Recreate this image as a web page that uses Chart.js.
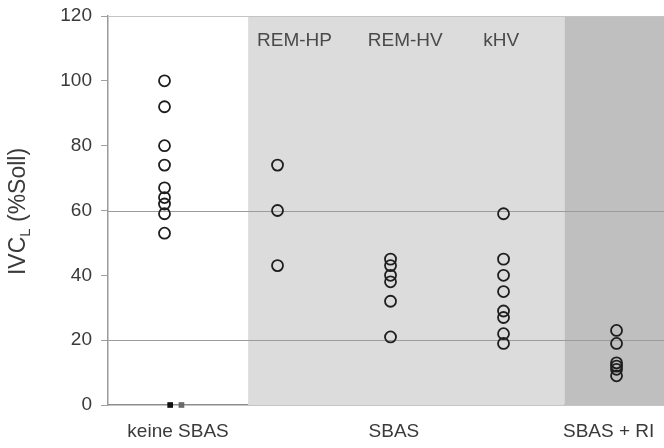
<!DOCTYPE html>
<html>
<head>
<meta charset="utf-8">
<script src="https://cdn.jsdelivr.net/npm/chart.js@4/dist/chart.umd.min.js"></script>
<style>
  html, body { margin: 0; padding: 0; background: #ffffff; }
  #wrap { width: 664px; height: 448px; position: relative; }
</style>
</head>
<body>
<div id="wrap"><canvas id="c" width="664" height="448"></canvas></div>
<script>
// Groups and their individual measurements (IVC_L, % of predicted)
const categories = ['keine SBAS', 'REM-HP', 'REM-HV', 'kHV', 'SBAS + RI'];
const valuesKeineSBAS = [100, 92, 80, 74, 67, 64, 62, 59, 53];
const valuesRemHP = [74, 60, 43];
const valuesRemHV = [45, 43, 40, 38, 32, 21];
const valuesKHV = [59, 45, 40, 35, 29, 27, 22, 19];
const valuesSbasRI = [23, 19, 13, 12, 11, 9];

// Axis labelling
const yTickValues = [0, 20, 40, 60, 80, 100, 120];
const referenceLines = [20, 60, 120];
const xAxisLabels = ['keine SBAS', 'SBAS', 'SBAS + RI'];
const xAxisLabelAt = [0.12, 2.03, 3.93];
const groupLabels = ['REM-HP', 'REM-HV', 'kHV'];
const groupLabelAt = [1.15, 2.13, 2.98];
const groupLabelValue = 112.5;

// Background bands (x in group units)
const bandEdges = [0.74, 3.54];

// Small square markers sitting on the baseline
const baselineMarkerX = [0.05, 0.15];
const baselineMarkerY = [0, 0];

const groupValues = [valuesKeineSBAS, valuesRemHP, valuesRemHV, valuesKHV, valuesSbasRI];
const circlePoints = [];
groupValues.forEach((vals, gi) => vals.forEach(v => circlePoints.push({ x: gi, y: v })));
const squarePoints = baselineMarkerX.map((x, i) => ({ x: x, y: baselineMarkerY[i] }));

const FONT = "'Liberation Sans', Arial, sans-serif";
const TEXT = '#3a3a3a';

const bandsPlugin = {
  id: 'bands',
  beforeDatasetsDraw(chart) {
    const { ctx, chartArea: a, scales: { x } } = chart;
    const e0 = x.getPixelForValue(bandEdges[0]);
    const e1 = x.getPixelForValue(bandEdges[1]);
    ctx.save();
    ctx.fillStyle = '#dcdcdc';
    ctx.fillRect(e0, a.top, e1 - e0, a.bottom - a.top);
    ctx.fillStyle = '#bfbfbf';
    ctx.fillRect(e1, a.top, a.right - e1, a.bottom - a.top);
    // horizontal reference lines drawn over the bands
    const y = chart.scales.y;
    ctx.lineWidth = 1;
    referenceLines.forEach(v => {
      const py = Math.round(y.getPixelForValue(v)) + 0.5;
      ctx.strokeStyle = v === 120 ? '#c4c4c4' : '#9c9c9c';
      ctx.beginPath();
      ctx.moveTo(a.left, py);
      ctx.lineTo(a.right, py);
      ctx.stroke();
    });
    // group captions inside the plot
    ctx.fillStyle = '#4a4a4a';
    ctx.font = '19px ' + FONT;
    ctx.textAlign = 'center';
    ctx.textBaseline = 'middle';
    groupLabels.forEach((t, i) => {
      ctx.fillText(t, x.getPixelForValue(groupLabelAt[i]), y.getPixelForValue(groupLabelValue));
    });
    ctx.restore();
  }
};

const yTitlePlugin = {
  id: 'yTitle',
  afterDraw(chart) {
    const { ctx, chartArea: a } = chart;
    ctx.save();
    ctx.translate(19, (a.top + a.bottom) / 2 + 1);
    ctx.rotate(-Math.PI / 2);
    ctx.fillStyle = TEXT;
    ctx.textBaseline = 'middle';
    const big = '23px ' + FONT;
    const small = '15px ' + FONT;
    ctx.font = big;
    const w1 = ctx.measureText('IVC').width;
    const w3 = ctx.measureText(' (%Soll)').width;
    ctx.font = small;
    const w2 = ctx.measureText('L').width;
    let xs = -(w1 + w2 + w3) / 2;
    ctx.font = big;
    ctx.textAlign = 'left';
    ctx.fillText('IVC', xs, 0);
    ctx.font = small;
    ctx.fillText('L', xs + w1, 7);
    ctx.font = big;
    ctx.fillText(' (%Soll)', xs + w1 + w2, 0);
    ctx.restore();
  }
};

new Chart(document.getElementById('c'), {
  type: 'scatter',
  data: {
    datasets: [
      {
        data: circlePoints,
        pointStyle: 'circle',
        pointRadius: 5.5,
        pointBorderWidth: 1.8,
        pointBorderColor: '#1e1e1e',
        pointBackgroundColor: 'rgba(0,0,0,0)',
        clip: false
      },
      {
        data: squarePoints,
        pointStyle: 'rect',
        pointRadius: 4,
        pointBorderWidth: 0,
        pointBackgroundColor: ['#111111', '#6a6a6a'],
        clip: false
      }
    ]
  },
  options: {
    responsive: false,
    animation: false,
    events: [],
    layout: { autoPadding: false, padding: { top: 16, right: 0, bottom: 0, left: 0 } },
    plugins: { legend: { display: false }, tooltip: { enabled: false } },
    scales: {
      x: {
        type: 'linear',
        min: -0.5,
        max: 4.42,
        afterBuildTicks(s) { s.ticks = xAxisLabelAt.map(v => ({ value: v })); },
        afterFit(s) { s.height = 43; s.paddingLeft = 0; s.paddingRight = 0; },
        ticks: {
          autoSkip: false,
          maxRotation: 0,
          padding: 15,
          color: TEXT,
          font: { family: FONT, size: 19 },
          callback(v) {
            const i = xAxisLabelAt.indexOf(v);
            return i >= 0 ? xAxisLabels[i] : '';
          }
        },
        grid: { display: false, drawTicks: false },
        border: { display: true, color: '#8c8c8c', width: 1.5 }
      },
      y: {
        min: 0,
        max: 120,
        afterBuildTicks(s) { s.ticks = yTickValues.map(v => ({ value: v })); },
        afterFit(s) { s.width = 108; s.paddingTop = 0; s.paddingBottom = 0; },
        ticks: {
          padding: 9,
          color: TEXT,
          font: { family: FONT, size: 19 }
        },
        grid: {
          drawOnChartArea: false,
          drawTicks: true,
          tickLength: 7,
          tickColor: '#a0a0a0'
        },
        border: { display: true, color: '#9a9a9a', width: 1.5 }
      }
    }
  },
  plugins: [bandsPlugin, yTitlePlugin]
});
</script>
</body>
</html>
